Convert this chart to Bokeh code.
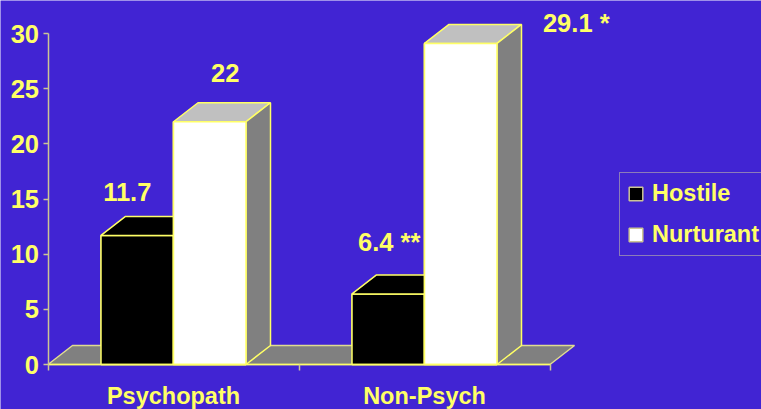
from bokeh.plotting import figure
from bokeh.models import Range1d, FixedTicker, Legend, LegendItem, ColumnDataSource
from bokeh.core.properties import value
from bokeh.embed import file_html
from bokeh.resources import INLINE

categories = ["Psychopath", "Non-Psych"]
hostile = [11.7, 6.4]
nurturant = [22, 29.1]
value_labels = [["11.7", "6.4 **"], ["22", "29.1 *"]]
y_ticks = [0, 5, 10, 15, 20, 25, 30]

BG = "#4124D3"
YEL = "#FFFF66"
TAN = "#CCC694"
FONT = "Liberation Sans"
FS = "23.5px"
FS_BIG = "25.5px"

W, H = 761, 409
X0, Y0 = 47.5, 45         # pixel position of the data origin inside the figure
PX_X, PX_Y = 251.0, 331.0 / 30
DX, DY = 24.5 / PX_X, 19 / PX_Y   # 3-D depth, in data units
BAR = 72.5 / PX_X
n = len(categories)
centers = [i + 0.5 for i in range(n)]

p = figure(width=W, height=H, output_backend="svg", toolbar_location=None,
           x_range=Range1d(-X0 / PX_X, (W - X0) / PX_X),
           y_range=Range1d(-Y0 / PX_Y, (H - Y0) / PX_Y),
           background_fill_color=BG, border_fill_color=BG, outline_line_color=None,
           min_border=0)
p.grid.visible = False

# legend swatch sources: same bars, tan outline, fully covered by the bars drawn later
sw_h = p.vbar(x=[c - BAR / 2 for c in centers], top=hostile, bottom=0, width=BAR,
              fill_color="black", line_color=TAN, line_width=1.5)
sw_n = p.vbar(x=[c + BAR / 2 for c in centers], top=nurturant, bottom=0, width=BAR,
              fill_color="white", line_color=TAN, line_width=1.5)

# floor
p.patch([0, DX, n + DX, n], [0, DY, DY, 0], fill_color="#808080", line_color="#E0DC90", line_width=1.5)


def bar3d(vals, left_of):
    lefts = [c - BAR if left_of else c for c in centers]
    rights = [l + BAR for l in lefts]
    p.vbar(x=[(l + r) / 2 for l, r in zip(lefts, rights)], top=vals, bottom=0, width=BAR,
           fill_color="black" if left_of else "white", line_color=YEL, line_width=1.5)
    p.patches([[l, l + DX, r + DX, r] for l, r in zip(lefts, rights)],
              [[v, v + DY, v + DY, v] for v in vals],
              fill_color="black" if left_of else "#C0C0C0", line_color=YEL, line_width=1.5)
    p.patches([[r, r + DX, r + DX, r] for r in rights],
              [[0, DY, v + DY, v] for v in vals],
              fill_color="#808080", line_color=YEL, line_width=1.5)


bar3d(hostile, True)
bar3d(nurturant, False)
# redraw front of the white bars above the black bars' depth faces
p.vbar(x=[c + BAR / 2 for c in centers], top=nurturant, bottom=0, width=BAR,
       fill_color="white", line_color=YEL, line_width=1.5)

# value labels, offset in pixels from each bar's top centre
label_src = ColumnDataSource(dict(
    x=[c - BAR / 2 for c in centers] + [c + BAR / 2 for c in centers],
    y=hostile + nurturant,
    t=value_labels[0] + value_labels[1],
    xo=[-10, 1, 15.5, 115.5],
    yo=[-43, -52, -49, -20],
))
p.text(x="x", y="y", text="t", x_offset="xo", y_offset="yo", source=label_src,
       text_font=value(FONT), text_font_style="bold", text_font_size=FS_BIG,
       text_color=YEL, text_align="center", text_baseline="middle")

# axes
ya = p.yaxis[0]
ya.fixed_location = 0
ya.bounds = (0, 30)
ya.ticker = FixedTicker(ticks=y_ticks)
ya.axis_line_color = TAN
ya.axis_line_width = 1.5
ya.major_tick_line_color = TAN
ya.major_tick_line_width = 1.5
ya.major_tick_in = 0
ya.major_tick_out = 5
ya.minor_tick_line_color = None
ya.major_label_text_font = FONT
ya.major_label_text_font_style = "bold"
ya.major_label_text_font_size = FS_BIG
ya.major_label_text_color = YEL
ya.major_label_standoff = 4

xa = p.xaxis[0]
xa.fixed_location = 0
xa.bounds = (0, n)
xa.ticker = FixedTicker(ticks=centers, minor_ticks=list(range(n + 1)))
xa.major_label_overrides = {c: name for c, name in zip(centers, categories)}
xa.axis_line_color = YEL
xa.axis_line_width = 1.5
xa.major_tick_line_color = None
xa.major_tick_in = 0
xa.major_tick_out = 0
xa.minor_tick_line_color = TAN
xa.minor_tick_line_width = 1.5
xa.minor_tick_in = 0
xa.minor_tick_out = 6
xa.major_label_text_font = FONT
xa.major_label_text_font_style = "bold"
xa.major_label_text_font_size = FS
xa.major_label_text_color = YEL
xa.major_label_standoff = 12

legend = Legend(items=[LegendItem(label="Hostile", renderers=[sw_h]),
                       LegendItem(label="Nurturant", renderers=[sw_n])],
                location=(619, 153), orientation="vertical",
                background_fill_color=BG, background_fill_alpha=1,
                border_line_color="#D8D4A0", border_line_width=1.5,
                label_text_font=FONT, label_text_font_style="bold", label_text_font_size=FS,
                label_text_color=YEL, glyph_width=17, glyph_height=17,
                label_standoff=8, padding=7, margin=0, spacing=14, label_height=26)
p.add_layout(legend, "center")

open("out.html", "w").write(file_html(p, INLINE))
